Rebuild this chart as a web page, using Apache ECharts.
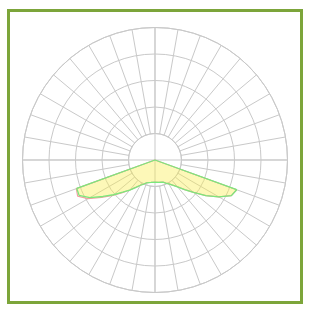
<!DOCTYPE html>
<html>
<head>
<meta charset="utf-8">
<title>配光曲线</title>
<script src="https://cdn.jsdelivr.net/npm/echarts@6/dist/echarts.min.js"></script>
<style>
  html, body { margin: 0; padding: 0; background: #fff; }
  #main { position: absolute; left: 0; top: 0; width: 320px; height: 316px; }
  #frame { position: absolute; left: 7px; top: 9px; width: 296px; height: 295px;
           border: 3px solid #7ca53a; box-sizing: border-box; pointer-events: none; }
</style>
</head>
<body>
<div id="main"></div>
<div id="frame"></div>
<script>
// gamma angles (degrees from nadir), 0..90
var gammas = [0, 5, 10, 15, 20, 25, 30, 35, 40, 45, 50, 55, 60, 65, 70, 75, 80, 85, 90];

// intensity values (outer ring = 250)
var c0Left   = [42, 42.5, 43, 44, 46, 50, 55, 63, 74, 87, 104, 123, 146, 161, 158, 0, 0, 0, 0];
var c0Right  = [42, 42.5, 43, 43.5, 44.5, 48, 52, 58, 66, 79, 95, 117, 139, 159, 164, 0, 0, 0, 0];
var c90Left  = [42, 42.5, 43, 44, 46, 50, 55, 63, 74, 86, 102, 120, 142, 158, 157, 0, 0, 0, 0];
var c90Right = [42, 42.5, 43, 43.5, 44.5, 48, 52, 58, 66, 79, 95, 117, 139, 159, 164, 0, 0, 0, 0];

var rings = [0, 1, 2, 3, 4];

// build [radius, angle] from left (+90) through nadir (0) to right (-90)
function curve(left, right) {
    var pts = [];
    for (var i = gammas.length - 1; i >= 0; i--) pts.push([left[i], gammas[i]]);
    for (var j = 1; j < gammas.length; j++) pts.push([right[j], -gammas[j]]);
    return pts;
}

var gridColor = '#c9c9c9';
var myChart = echarts.init(document.getElementById('main'));

var option = {
    backgroundColor: '#fff',
    animation: false,
    polar: [
        { center: [155, 160], radius: [26.5, 132.5] },
        { center: [155, 160], radius: 132.5 }
    ],
    angleAxis: [
        {
            polarIndex: 0, type: 'value', min: 0, max: 360, interval: 10, startAngle: 90,
            axisLine: { show: true, lineStyle: { color: gridColor, width: 1 } },
            axisTick: { show: false }, axisLabel: { show: false },
            splitLine: { show: true, lineStyle: { color: gridColor, width: 1 } }
        },
        {
            polarIndex: 1, type: 'value', min: -180, max: 180, interval: 90, startAngle: 90,
            axisLine: { show: false }, axisTick: { show: false }, axisLabel: { show: false },
            splitLine: { show: true, lineStyle: { color: gridColor, width: 1 } }
        }
    ],
    radiusAxis: [
        {
            polarIndex: 0, type: 'value', min: rings[0], max: rings[rings.length - 1], interval: 1,
            axisLine: { show: false }, axisTick: { show: false }, axisLabel: { show: false },
            splitLine: { show: true, lineStyle: { color: gridColor, width: 1 } }
        },
        {
            polarIndex: 1, type: 'value', min: 0, max: 250,
            axisLine: { show: false }, axisTick: { show: false }, axisLabel: { show: false },
            splitLine: { show: false }
        }
    ],
    series: [
        {
            name: 'C0-C180', type: 'line', coordinateSystem: 'polar', polarIndex: 1,
            data: curve(c0Left, c0Right), symbol: 'none',
            lineStyle: { color: '#f4a0a0', width: 1.2 }
        },
        {
            name: 'C90-C270', type: 'line', coordinateSystem: 'polar', polarIndex: 1,
            data: curve(c90Left, c90Right), symbol: 'none',
            lineStyle: { color: '#7be87b', width: 1.3 },
            areaStyle: { color: 'rgba(250,238,70,0.55)', origin: 'start' }
        }
    ]
};

myChart.setOption(option);
</script>
</body>
</html>
